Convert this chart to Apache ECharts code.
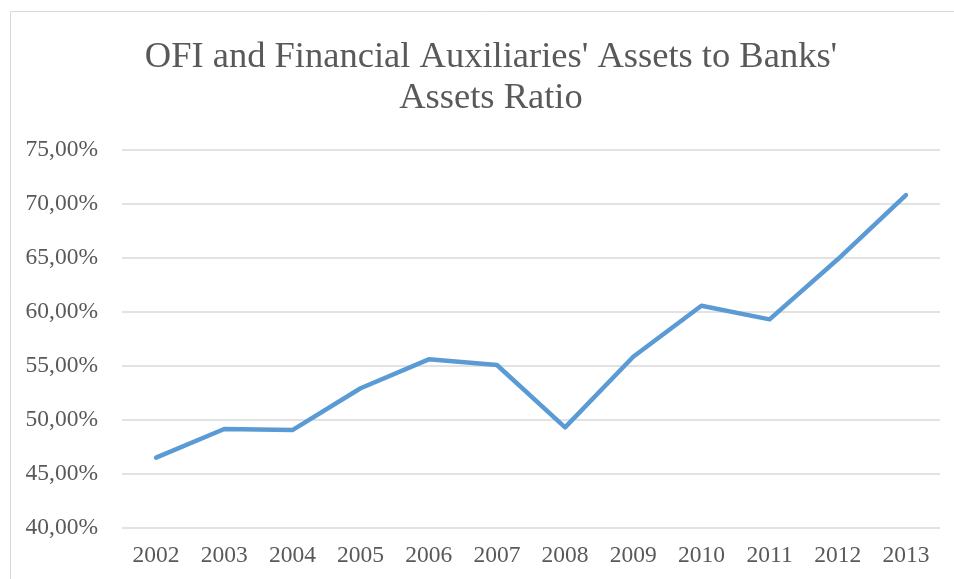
<!DOCTYPE html>
<html>
<head>
<meta charset="utf-8">
<script src="https://cdn.jsdelivr.net/npm/echarts@6/dist/echarts.min.js"></script>
<style>html,body{margin:0;padding:0;background:#fff;}#c{width:954px;height:579px;}</style>
</head>
<body>
<div id="c"></div>
<script>
const titleText = "OFI and Financial Auxiliaries' Assets to Banks'\nAssets Ratio";
const years = ['2002','2003','2004','2005','2006','2007','2008','2009','2010','2011','2012','2013'];
const ratio = [46.51, 49.17, 49.07, 52.94, 55.62, 55.09, 49.32, 55.86, 60.58, 59.32, 64.88, 70.83];
const yMin = 40, yMax = 75, yStep = 5;

const chart = echarts.init(document.getElementById('c'));
chart.setOption({
  animation: false,
  backgroundColor: '#fff',
  graphic: [{
    type: 'rect', silent: true,
    shape: {x: 10.5, y: 11.5, width: 980, height: 620},
    style: {fill: 'none', stroke: '#d9d9d9', lineWidth: 1}
  }],
  title: {
    text: titleText,
    left: 486, top: 32, textAlign: 'center',
    textStyle: {fontFamily: 'Liberation Serif', fontSize: 36.5, fontWeight: 'normal', color: '#595959', lineHeight: 41}
  },
  grid: {left: 122, right: 14, top: 150, bottom: 51, containLabel: false},
  xAxis: {
    type: 'category', data: years, boundaryGap: true,
    axisLine: {show: false}, axisTick: {show: false},
    axisLabel: {fontFamily: 'Liberation Serif', fontSize: 23.5, color: '#595959', margin: 16}
  },
  yAxis: {
    type: 'value', min: yMin, max: yMax, interval: yStep,
    axisLine: {show: false}, axisTick: {show: false},
    splitLine: {lineStyle: {color: '#d9d9d9', width: 1.5}},
    axisLabel: {
      fontFamily: 'Liberation Serif', fontSize: 23.5, color: '#595959', margin: 24,
      formatter: v => v.toFixed(2).replace('.', ',') + '%'
    }
  },
  series: [{
    type: 'line', data: ratio, symbol: 'none',
    lineStyle: {color: '#5b9bd5', width: 4.5, cap: 'round', join: 'round'}
  }]
});
</script>
</body>
</html>
